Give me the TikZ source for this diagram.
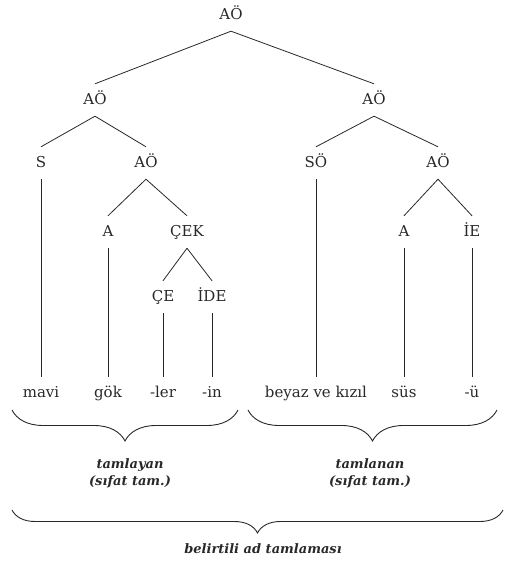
\documentclass[tikz,border=0pt]{standalone}
\usepackage{fontspec}
\setmainfont{DejaVu Serif}
\usepackage{tikz}
\usetikzlibrary{positioning}
\usetikzlibrary{decorations.pathreplacing}
\definecolor{InkGray}{RGB}{40,40,40}

\begin{document}
\begin{tikzpicture}[
 x=1pt, y=1pt,
 treenode/.style = {inner xsep=2pt, inner ysep=8pt, text height=13pt, text depth=3pt,
                    font=\fontsize{15}{17}\selectfont, text=InkGray},
 branch/.style = {draw, color=InkGray, line width=0.8pt},
 curly/.style = {draw, color=InkGray, line width=0.9pt, decorate,
                 decoration={brace, mirror, amplitude=31pt}},
 title/.style = {align=center, font=\fontsize{13}{17}\selectfont\bfseries\itshape,
                 text=InkGray},
                        ]

    \useasboundingbox (0,0) rectangle (507,565);

    \node [treenode] (root) at (231,550) {AÖ};
    \node [treenode] (aoLeft) at (95,465) {AÖ};
    \node [treenode] (aoRight) at (374,465) {AÖ};

    \node [treenode] (s) at (41,402) {S};
    \node [treenode] (aoInner) at (146,402) {AÖ};
    \node [treenode] (so) at (316,402) {SÖ};
    \node [treenode] (aoInnerR) at (438,402) {AÖ};

    \node [treenode] (aLeft) at (108,333) {A};
    \node [treenode] (cek) at (187,333) {ÇEK};
    \node [treenode] (aRight) at (404,333) {A};
    \node [treenode] (ie) at (472,333) {İE};

    \node [treenode] (ce) at (163,268) {ÇE};
    \node [treenode] (ide) at (212,268) {İDE};

    \node [treenode] (mavi) at (41,172) {mavi};
    \node [treenode] (gok) at (108,172) {gök};
    \node [treenode] (ler) at (163,172) {-ler};
    \node [treenode] (inSuffix) at (212,172) {-in};
    \node [treenode] (beyaz) at (316,172) {beyaz ve kızıl};
    \node [treenode] (sus) at (404,172) {süs};
    \node [treenode] (uSuffix) at (472,172) {-ü};


    \path (root.south) edge [branch] (aoLeft.north)
          (root.south) edge [branch] (aoRight.north)
          (aoLeft.south) edge [branch] (s.north)
          (aoLeft.south) edge [branch] (aoInner.north)
          (aoRight.south) edge [branch] (so.north)
          (aoRight.south) edge [branch] (aoInnerR.north)
          (aoInner.south) edge [branch] (aLeft.north)
          (aoInner.south) edge [branch] (cek.north)
          (aoInnerR.south) edge [branch] (aRight.north)
          (aoInnerR.south) edge [branch] (ie.north)
          (cek.south) edge [branch] (ce.north)
          (cek.south) edge [branch] (ide.north);

    \path (s.south) edge [branch] (mavi.north)
          (aLeft.south) edge [branch] (gok.north)
          (ce.south) edge [branch] (ler.north)
          (ide.south) edge [branch] (inSuffix.north)
          (so.south) edge [branch] (beyaz.north)
          (aRight.south) edge [branch] (sus.north)
          (ie.south) edge [branch] (uSuffix.north);


    \coordinate (tamlayanL) at (12,155);
    \coordinate (tamlayanR) at (238,155);
    \coordinate (tamlananL) at (248,155);
    \coordinate (tamlananR) at (497,155);
    \coordinate (belirtiliL) at (12,55);
    \coordinate (belirtiliR) at (503,55);

    \draw [curly] (tamlayanL) -- (tamlayanR);
    \draw [curly] (tamlananL) -- (tamlananR);
    \draw [curly, decoration={brace, mirror, amplitude=23pt}] (belirtiliL) -- (belirtiliR);

    \node [title] (tamlayanTitle) at (130,92) {tamlayan\\(sıfat tam.)};
    \node [title] (tamlananTitle) at (370,92) {tamlanan\\(sıfat tam.)};
    \node [title] (belirtiliTitle) at (263,16) {belirtili ad tamlaması};

\end{tikzpicture}
\end{document}
